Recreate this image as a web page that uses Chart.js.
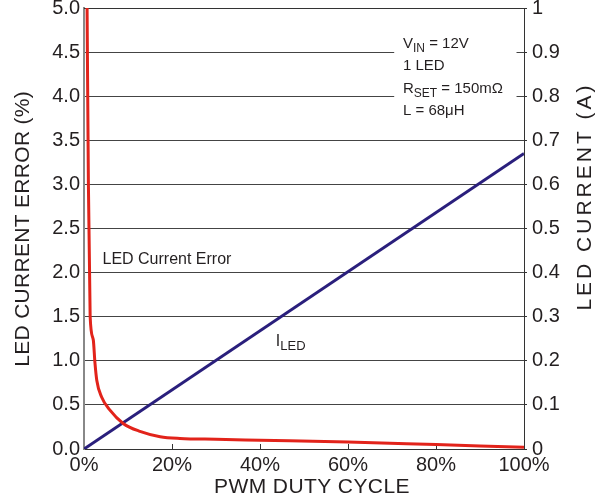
<!DOCTYPE html>
<html lang="en">
<head>
    <meta charset="UTF-8">
    <title>LED Current Error vs PWM Duty Cycle</title>
    <script src="https://cdn.jsdelivr.net/npm/chart.js@4.4.0/dist/chart.umd.min.js"></script>
    <style>
        body {
            margin: 0;
            background: #fff;
            font-family: "Liberation Sans", Arial, sans-serif;
        }
        canvas { display: block; }
    </style>
</head>
<body>
    <canvas id="pwmChart" width="596" height="500"></canvas>

    <script>
        // Error curve (left axis, %)
        const errDuty = [0.7, 1.0, 1.4, 2.1, 2.5, 2.9, 4.0, 5.9, 8.9, 12.7, 17.3, 21.8, 30, 40, 60, 80, 100];
        const errPct = [5.0, 3.0, 1.5, 1.24, 0.97, 0.78, 0.59, 0.44, 0.29, 0.20, 0.14, 0.12, 0.11, 0.10, 0.08, 0.05, 0.02];
        // LED current (right axis, A)
        const curDuty = [0, 100];
        const curAmps = [0, 0.67];
        // tick settings
        const dutyTicks = [0, 20, 40, 60, 80, 100];
        const conditions = ['V|IN| = 12V', '1 LED', 'R|SET| = 150mΩ', 'L = 68μH'];

        const FONT = '"Liberation Sans", Arial, sans-serif';
        const INK = '#231f20';

        // draw text with optional |subscript| parts
        function subText(ctx, str, x, y, size) {
            const parts = str.split('|');
            let cx = x;
            parts.forEach((p, i) => {
                const sub = i % 2 === 1;
                ctx.font = (sub ? size - 3 : size) + 'px ' + FONT;
                ctx.fillText(p, cx, sub ? y + 4 : y);
                cx += ctx.measureText(p).width;
            });
        }

        function rotatedTitle(ctx, text, cx, cy, spacing) {
            ctx.save();
            ctx.translate(cx, cy);
            ctx.rotate(-Math.PI / 2);
            ctx.letterSpacing = spacing + 'px';
            ctx.fillText(text, spacing / 2, 0);
            ctx.restore();
        }

        const decorPlugin = {
            id: 'decor',
            beforeDatasetsDraw(chart) {
                const { ctx, chartArea, scales } = chart;
                const x = scales.x, y = scales.y;
                ctx.save();
                // blank out the grid behind the conditions box
                ctx.fillStyle = '#fff';
                const bx = x.getPixelForValue(70.5), bx2 = x.getPixelForValue(98.3);
                const by = y.getPixelForValue(4.8), by2 = y.getPixelForValue(3.75);
                ctx.fillRect(bx, by, bx2 - bx, by2 - by);
                // top border
                ctx.strokeStyle = '#333';
                ctx.lineWidth = 1;
                ctx.beginPath();
                ctx.moveTo(chartArea.left, chartArea.top + 0.5);
                ctx.lineTo(chartArea.right, chartArea.top + 0.5);
                ctx.stroke();
                // inward x ticks
                dutyTicks.slice(1, -1).forEach(v => {
                    const px = Math.round(x.getPixelForValue(v)) + 0.5;
                    ctx.beginPath();
                    ctx.moveTo(px, chartArea.bottom);
                    ctx.lineTo(px, chartArea.bottom - 5);
                    ctx.stroke();
                });
                ctx.restore();
            },
            afterDraw(chart) {
                const { ctx, chartArea, scales } = chart;
                const x = scales.x, y = scales.y;
                ctx.save();
                ctx.fillStyle = INK;
                ctx.textBaseline = 'alphabetic';
                ctx.textAlign = 'left';
                // conditions box
                const tx = x.getPixelForValue(72.5);
                conditions.forEach((line, i) => {
                    subText(ctx, line, tx, y.getPixelForValue(4.55) + i * 22.5, 15);
                });
                // series labels
                ctx.font = '16px ' + FONT;
                ctx.fillText('LED Current Error', x.getPixelForValue(4.2), y.getPixelForValue(2.1));
                subText(ctx, 'I|LED|', x.getPixelForValue(43.6), y.getPixelForValue(1.17), 16);

                // axis titles
                ctx.font = '21px ' + FONT;
                ctx.textAlign = 'center';
                ctx.textBaseline = 'middle';
                ctx.save();
                ctx.letterSpacing = '0.4px';
                ctx.fillText('PWM DUTY CYCLE', (chartArea.left + chartArea.right) / 2 + 8, 487);
                ctx.restore();
                rotatedTitle(ctx, 'LED CURRENT ERROR (%)', 23, 229, 0.3);
                rotatedTitle(ctx, 'LED CURRENT (A)', 585, 198, 3);
                ctx.restore();
            }
        };

        function noPad(scale) {
            scale.paddingTop = 0;
            scale.paddingBottom = 0;
            scale.paddingLeft = 0;
            scale.paddingRight = 0;
        }

        const ctx = document.getElementById('pwmChart').getContext('2d');
        new Chart(ctx, {
            type: 'line',
            data: {
                datasets: [{
                    label: 'LED Current Error',
                    data: errDuty.map((d, i) => ({ x: d, y: errPct[i] })),
                    yAxisID: 'y',
                    borderColor: '#e2231a',
                    borderWidth: 3,
                    pointRadius: 0,
                    cubicInterpolationMode: 'monotone',
                    fill: false
                }, {
                    label: 'ILED',
                    data: curDuty.map((d, i) => ({ x: d, y: curAmps[i] })),
                    yAxisID: 'y1',
                    borderColor: '#2a1f7c',
                    borderWidth: 3,
                    pointRadius: 0,
                    fill: false
                }]
            },
            options: {
                responsive: false,
                animation: false,
                layout: { padding: { top: 8, left: 0, right: 0, bottom: 0 } },
                plugins: {
                    legend: { display: false },
                    tooltip: { enabled: false }
                },
                scales: {
                    x: {
                        type: 'linear',
                        min: 0,
                        max: 100,
                        afterBuildTicks: s => { s.ticks = dutyTicks.map(v => ({ value: v })); },
                        ticks: {
                            callback: v => v + '%',
                            font: { size: 20, family: FONT },
                            color: INK,
                            padding: 4,
                            maxRotation: 0
                        },
                        grid: { display: false, drawTicks: false },
                        border: { color: '#333', width: 1 },
                        afterFit: s => { s.height = 51; noPad(s); }
                    },
                    y: {
                        position: 'left',
                        min: 0,
                        max: 5,
                        ticks: {
                            stepSize: 0.5,
                            callback: v => v.toFixed(1),
                            font: { size: 20, family: FONT },
                            color: INK,
                            padding: 4
                        },
                        grid: { color: '#444', lineWidth: 1, drawTicks: false },
                        border: { color: '#888', width: 2 },
                        afterFit: s => { s.width = 84; noPad(s); }
                    },
                    y1: {
                        position: 'right',
                        min: 0,
                        max: 1,
                        ticks: {
                            stepSize: 0.1,
                            callback: v => (v < 0.001 || v > 0.999) ? String(Math.round(v)) : v.toFixed(1),
                            font: { size: 20, family: FONT },
                            color: INK,
                            padding: 5
                        },
                        grid: { drawOnChartArea: false, color: '#333', tickLength: 3 },
                        border: { color: '#333', width: 1 },
                        afterFit: s => { s.width = 72; noPad(s); }
                    }
                }
            },
            plugins: [decorPlugin]
        });
    </script>
</body>
</html>
